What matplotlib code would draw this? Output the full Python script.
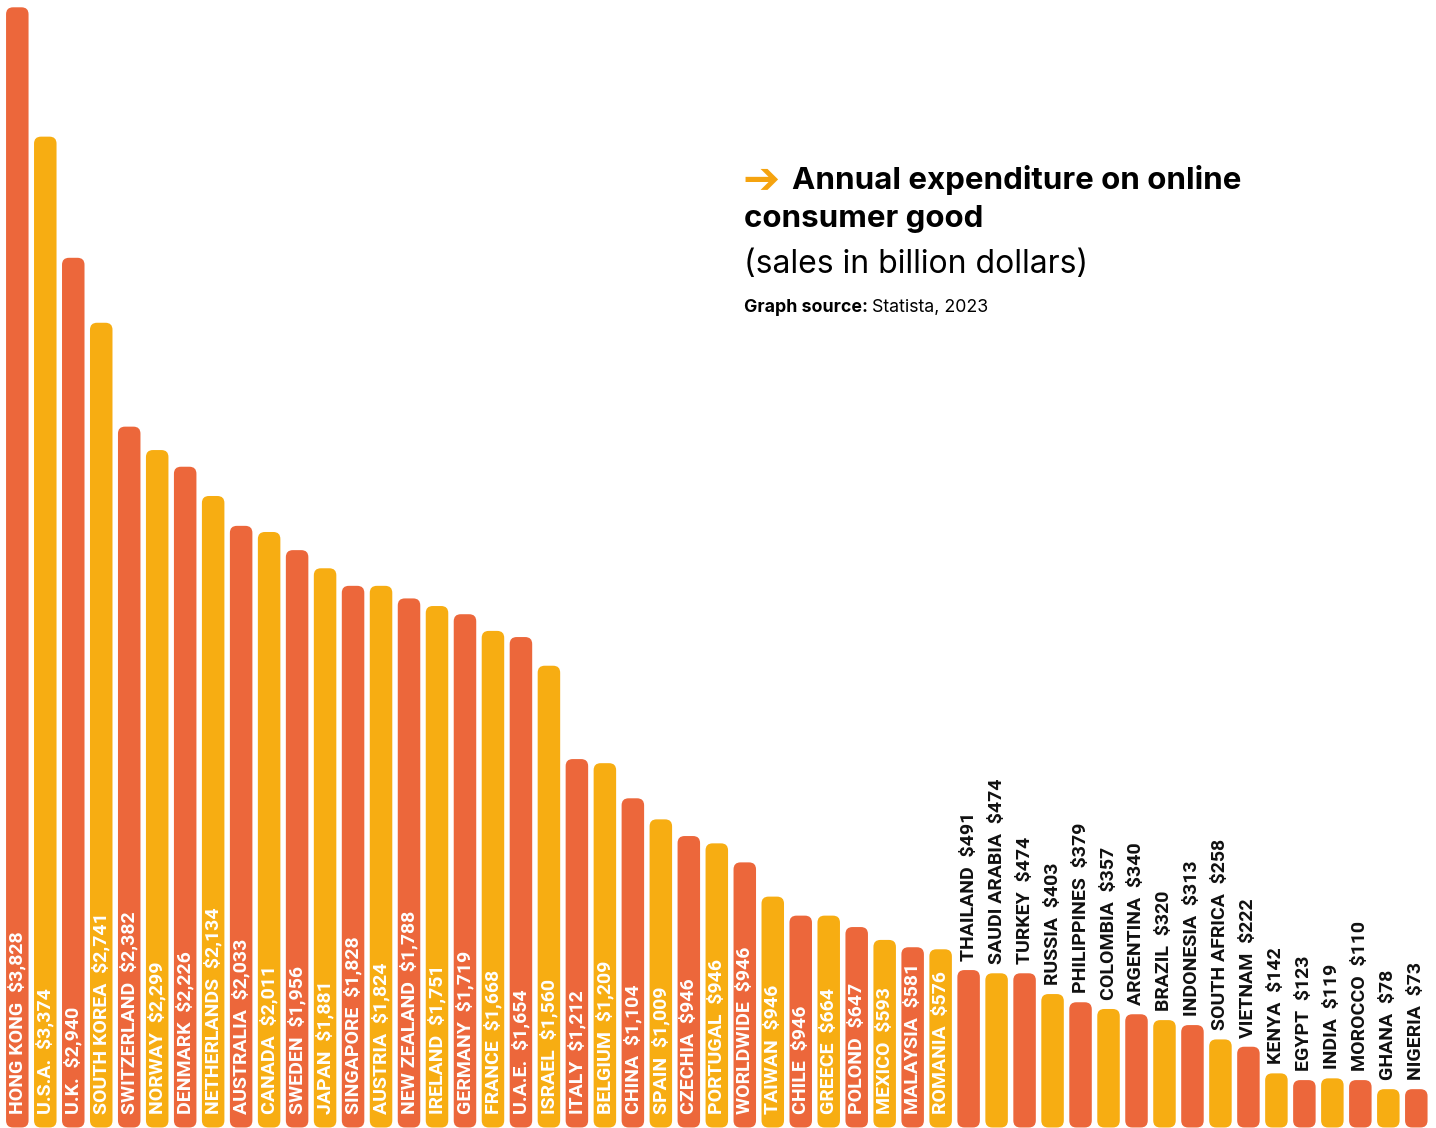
"""Annual expenditure on online consumer goods, rounded bar chart."""

import matplotlib

matplotlib.use("Agg")
import matplotlib.pyplot as plt
from matplotlib.patches import FancyBboxPatch

# Data
countries = [
    "HONG KONG", "U.S.A.", "U.K.", "SOUTH KOREA", "SWITZERLAND", "NORWAY",
    "DENMARK", "NETHERLANDS", "AUSTRALIA", "CANADA", "SWEDEN", "JAPAN",
    "SINGAPORE", "AUSTRIA", "NEW ZEALAND", "IRELAND", "GERMANY", "FRANCE",
    "U.A.E.", "ISRAEL", "ITALY", "BELGIUM", "CHINA", "SPAIN", "CZECHIA",
    "PORTUGAL", "WORLDWIDE", "TAIWAN", "CHILE", "GREECE", "POLOND", "MEXICO",
    "MALAYSIA", "ROMANIA", "THAILAND", "SAUDI ARABIA", "TURKEY", "RUSSIA",
    "PHILIPPINES", "COLOMBIA", "ARGENTINA", "BRAZIL", "INDONESIA",
    "SOUTH AFRICA", "VIETNAM", "KENYA", "EGYPT", "INDIA", "MOROCCO", "GHANA",
    "NIGERIA",
]
# values printed in the labels
values = [
    3828, 3374, 2940, 2741, 2382, 2299, 2226, 2134, 2033, 2011, 1956, 1881,
    1828, 1824, 1788, 1751, 1719, 1668, 1654, 1560, 1212, 1209, 1104, 1009,
    946, 946, 946, 946, 946, 664, 647, 593, 581, 576, 491, 474, 474, 403,
    379, 357, 340, 320, 313, 258, 222, 142, 123, 119, 110, 78, 73,
]
# drawn bar heights (same units), as measured on the picture
bar_heights = [
    3828, 3386, 2972, 2750, 2395, 2315, 2258, 2158, 2056, 2035, 1973, 1911,
    1851, 1851, 1808, 1782, 1754, 1697, 1676, 1578, 1259, 1245, 1125, 1053,
    996, 971, 906, 789, 724, 724, 685, 641, 616, 609, 538, 527, 527, 456,
    428, 405, 387, 367, 350, 301, 276, 185, 162, 168, 162, 131, 131,
]
n_inside = 34  # first 34 bars carry their label inside

RED = "#EC673B"
YELLOW = "#F7AD12"
W, H = 1436, 1128
STEP = 27.98  # px between bar centres
X0 = 17.3  # px, centre of first bar
BASE = 1127.5  # px, bar baseline
UNIT = 3828 / (BASE - 7.3)  # data units per px

fig = plt.figure(figsize=(W / 100, H / 100), dpi=100)
ax = fig.add_axes([0, 0, 1, 1])
ax.set_xlim(-X0 / STEP, (W - X0) / STEP)
ax.set_ylim(-(H - BASE) * UNIT, BASE * UNIT)
ax.axis("off")

bar_w = 22.5 / STEP
radius = 7 / STEP
aspect = UNIT * STEP

label_font = dict(family=["Roboto", "DejaVu Sans"], fontsize=14, fontweight="bold")

for i, (name, val, h) in enumerate(zip(countries, values, bar_heights)):
    color = RED if i % 2 == 0 else YELLOW
    patch = FancyBboxPatch(
        (i - bar_w / 2, 0), bar_w, h,
        boxstyle=f"round,pad=0,rounding_size={radius}",
        mutation_aspect=aspect, fc=color, ec="none",
    )
    ax.add_patch(patch)
    label = f"{name}  ${val:,}"
    if i < n_inside:
        ax.text(i, 14 * UNIT, label, rotation=90, ha="center", va="bottom",
                color="white", **label_font)
    else:
        ax.text(i, h + 9 * UNIT, label, rotation=90, ha="center", va="bottom",
                color="#111111", **label_font)


def px(x, y):
    return x / W, 1 - y / H


title_font = ["Inter", "DejaVu Sans"]
fig.text(*px(742, 192), "\u2794", color="#F5A30F", fontsize=32,
         family="DejaVu Sans", fontweight="bold", va="baseline")
fig.text(*px(792, 189), "Annual expenditure on online", fontsize=22.5,
         fontweight="bold", family=title_font, va="baseline")
fig.text(*px(744, 227), "consumer good", fontsize=22.5,
         fontweight="bold", family=title_font, va="baseline")
fig.text(*px(744, 273), "(sales in billion dollars)", fontsize=23,
         family=title_font, va="baseline")
src = fig.text(*px(744, 312), "Graph source:", fontsize=12.8,
               fontweight="bold", family=title_font, va="baseline")
fig.canvas.draw()
bb = src.get_window_extent()
fig.text(bb.x1 / W + 4 / W, 1 - 312 / H, "Statista, 2023", fontsize=12.8,
         family=title_font, va="baseline")

fig.savefig("out.png", dpi=100)
